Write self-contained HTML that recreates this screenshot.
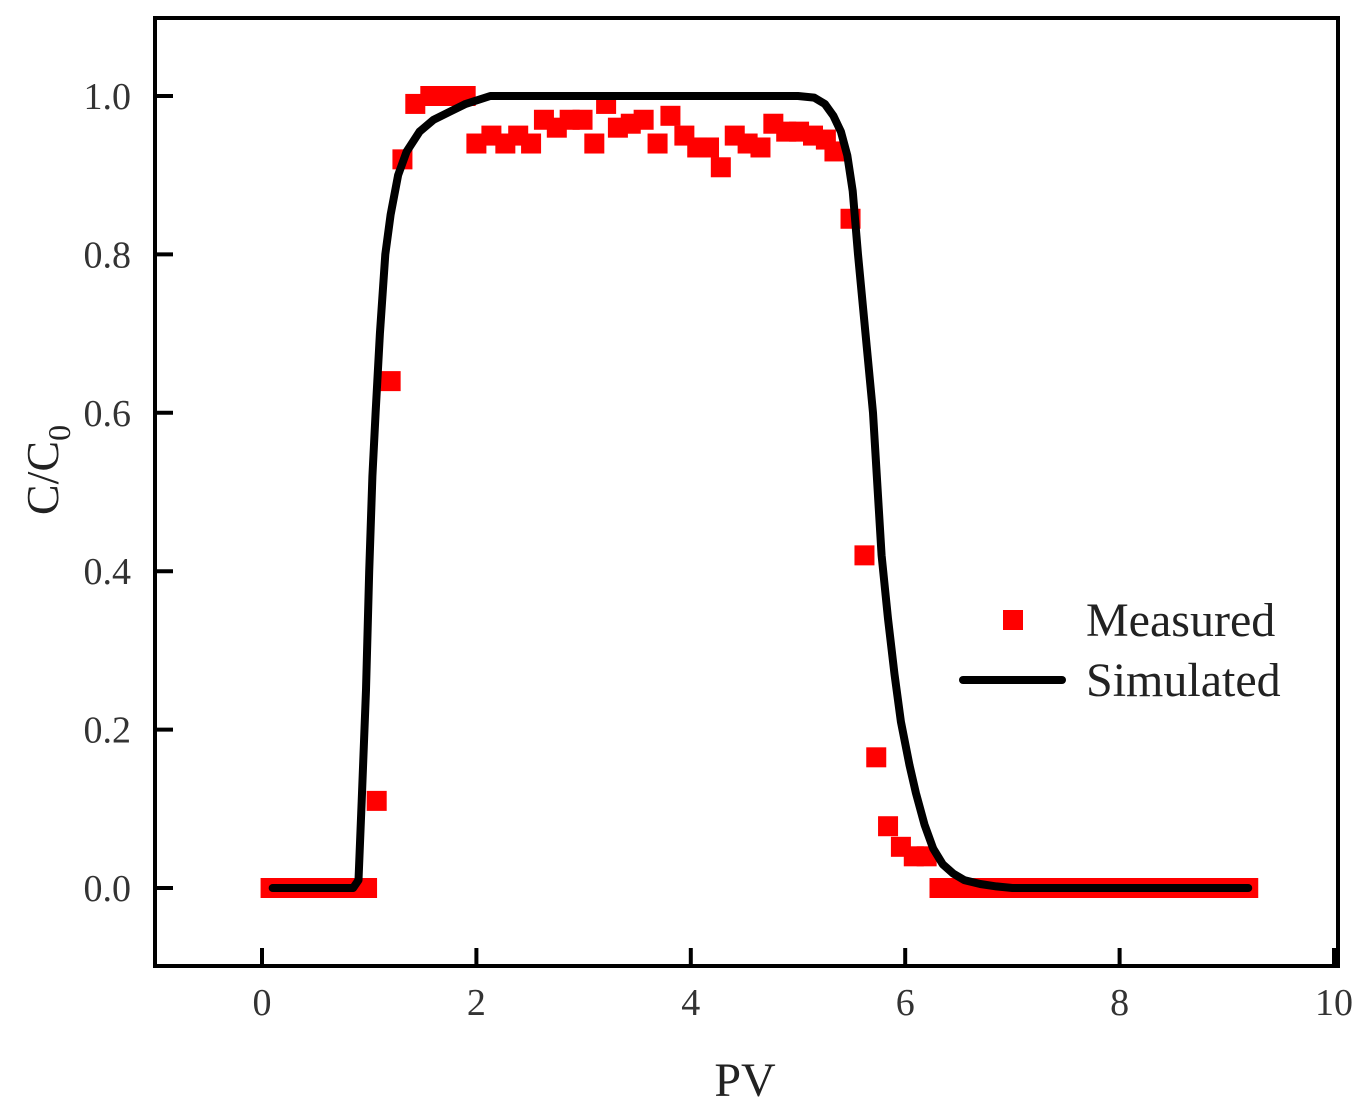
<!DOCTYPE html>
<html><head><meta charset="utf-8"><style>
html,body{margin:0;padding:0;background:#fff;}
svg{display:block;font-family:"Liberation Serif",serif;}
</style></head><body>
<svg id="chart" width="1370" height="1113" viewBox="0 0 1370 1113" xmlns="http://www.w3.org/2000/svg">
<rect x="155" y="18" width="1183" height="948" fill="none" stroke="#000" stroke-width="4"/>
<g id="ticks"></g>
<g id="measured"></g>
<g id="simulated"></g>
<text x="745" y="1096" font-size="48" text-anchor="middle" fill="#222">PV</text>
<text transform="translate(58,470) rotate(-90)" font-size="46" text-anchor="middle" fill="#222">C/C<tspan font-size="32" dy="12">0</tspan></text>
<g>
<rect x="1003" y="610" width="20" height="20" fill="#ff0000"/>
<text x="1086" y="636" font-size="48" fill="#222">Measured</text>
<line x1="963" y1="680" x2="1062" y2="680" stroke="#000" stroke-width="8" stroke-linecap="round"/>
<text x="1086" y="696" font-size="48" fill="#222">Simulated</text>
</g>
</svg>
<script>
const xTicks=[0,2,4,6,8,10];
const yTicks=[0.0,0.2,0.4,0.6,0.8,1.0];
const measX=[0.08,0.2,0.32,0.44,0.56,0.68,0.8,0.92,0.98,1.07,1.2,1.31,1.43,1.57,1.7,1.82,1.9,2.0,2.14,2.27,2.39,2.51,2.63,2.75,2.87,2.99,3.1,3.21,3.32,3.44,3.56,3.69,3.81,3.94,4.06,4.17,4.28,4.41,4.53,4.65,4.77,4.89,5.01,5.14,5.26,5.34,5.49,5.62,5.73,5.84,5.96,6.08,6.2,6.32,6.45,6.58,6.7,6.82,6.95,7.08,7.2,7.33,7.45,7.58,7.7,7.83,7.95,8.08,8.2,8.33,8.45,8.58,8.7,8.83,8.95,9.08,9.2];
const measY=[0,0,0,0,0,0,0,0,0,0.11,0.64,0.92,0.99,1.0,1.0,1.0,1.0,0.94,0.95,0.94,0.95,0.94,0.97,0.96,0.97,0.97,0.94,0.99,0.96,0.965,0.97,0.94,0.975,0.95,0.935,0.935,0.91,0.95,0.94,0.935,0.965,0.955,0.955,0.95,0.945,0.93,0.845,0.42,0.165,0.078,0.052,0.04,0.04,0,0,0,0,0,0,0,0,0,0,0,0,0,0,0,0,0,0,0,0,0,0,0,0];
const simX=[0.1,0.85,0.9,0.93,0.97,1.0,1.03,1.06,1.1,1.15,1.2,1.27,1.35,1.47,1.6,1.75,1.9,2.13,3,4,5,5.15,5.25,5.33,5.4,5.46,5.51,5.56,5.63,5.7,5.78,5.84,5.9,5.96,6.04,6.1,6.18,6.26,6.35,6.45,6.55,6.7,6.85,7.0,8,9.2];
const simY=[0,0,0.01,0.11,0.25,0.4,0.52,0.6,0.7,0.8,0.85,0.9,0.93,0.955,0.97,0.98,0.99,1.0,1.0,1.0,1.0,0.998,0.99,0.975,0.955,0.925,0.88,0.8,0.7,0.6,0.42,0.34,0.27,0.21,0.155,0.12,0.08,0.05,0.03,0.018,0.01,0.005,0.002,0,0,0];
const X0=155,X1=1338,Y0=966,Y1=18;
function sx(v){return 262+v*107.2;}
function sy(v){return 888-v*792;}
const NS="http://www.w3.org/2000/svg";
const tg=document.getElementById('ticks');
xTicks.forEach(t=>{
 const l=document.createElementNS(NS,'line');
 l.setAttribute('x1',sx(t));l.setAttribute('x2',sx(t));l.setAttribute('y1',Y0);l.setAttribute('y2',Y0-18);
 l.setAttribute('stroke','#000');l.setAttribute('stroke-width','4');
 
 
 tg.appendChild(l);
 const tx=document.createElementNS(NS,'text');
 tx.setAttribute('x',sx(t));tx.setAttribute('y',1015);tx.setAttribute('font-size','38');tx.setAttribute('text-anchor','middle');tx.setAttribute('fill','#333');
 tx.textContent=String(t);
 
 
 tg.appendChild(tx);
});
yTicks.forEach(t=>{
 const l=document.createElementNS(NS,'line');
 l.setAttribute('x1',X0);l.setAttribute('x2',X0+18);l.setAttribute('y1',sy(t));l.setAttribute('y2',sy(t));
 l.setAttribute('stroke','#000');l.setAttribute('stroke-width','4');
 
 
 tg.appendChild(l);
 const tx=document.createElementNS(NS,'text');
 tx.setAttribute('x',131);tx.setAttribute('y',sy(t)+13);tx.setAttribute('font-size','38');tx.setAttribute('text-anchor','end');tx.setAttribute('fill','#333');
 tx.textContent=t.toFixed(1);
 
 
 tg.appendChild(tx);
});
const mg=document.getElementById('measured');
measX.forEach((x,i)=>{
 const r=document.createElementNS(NS,'rect');
 r.setAttribute('x',sx(x)-10);r.setAttribute('y',sy(measY[i])-10);r.setAttribute('width',20);r.setAttribute('height',20);r.setAttribute('fill','#ff0000');
 
 
 mg.appendChild(r);
});
const p=document.createElementNS(NS,'path');
p.setAttribute('d',simX.map((x,i)=>(i?'L':'M')+sx(x).toFixed(1)+','+sy(simY[i]).toFixed(1)).join(''));
p.setAttribute('fill','none');p.setAttribute('stroke','#000');p.setAttribute('stroke-width','8');p.setAttribute('stroke-linejoin','round');p.setAttribute('stroke-linecap','round');


document.getElementById('simulated').appendChild(p);
</script>
</body></html>
